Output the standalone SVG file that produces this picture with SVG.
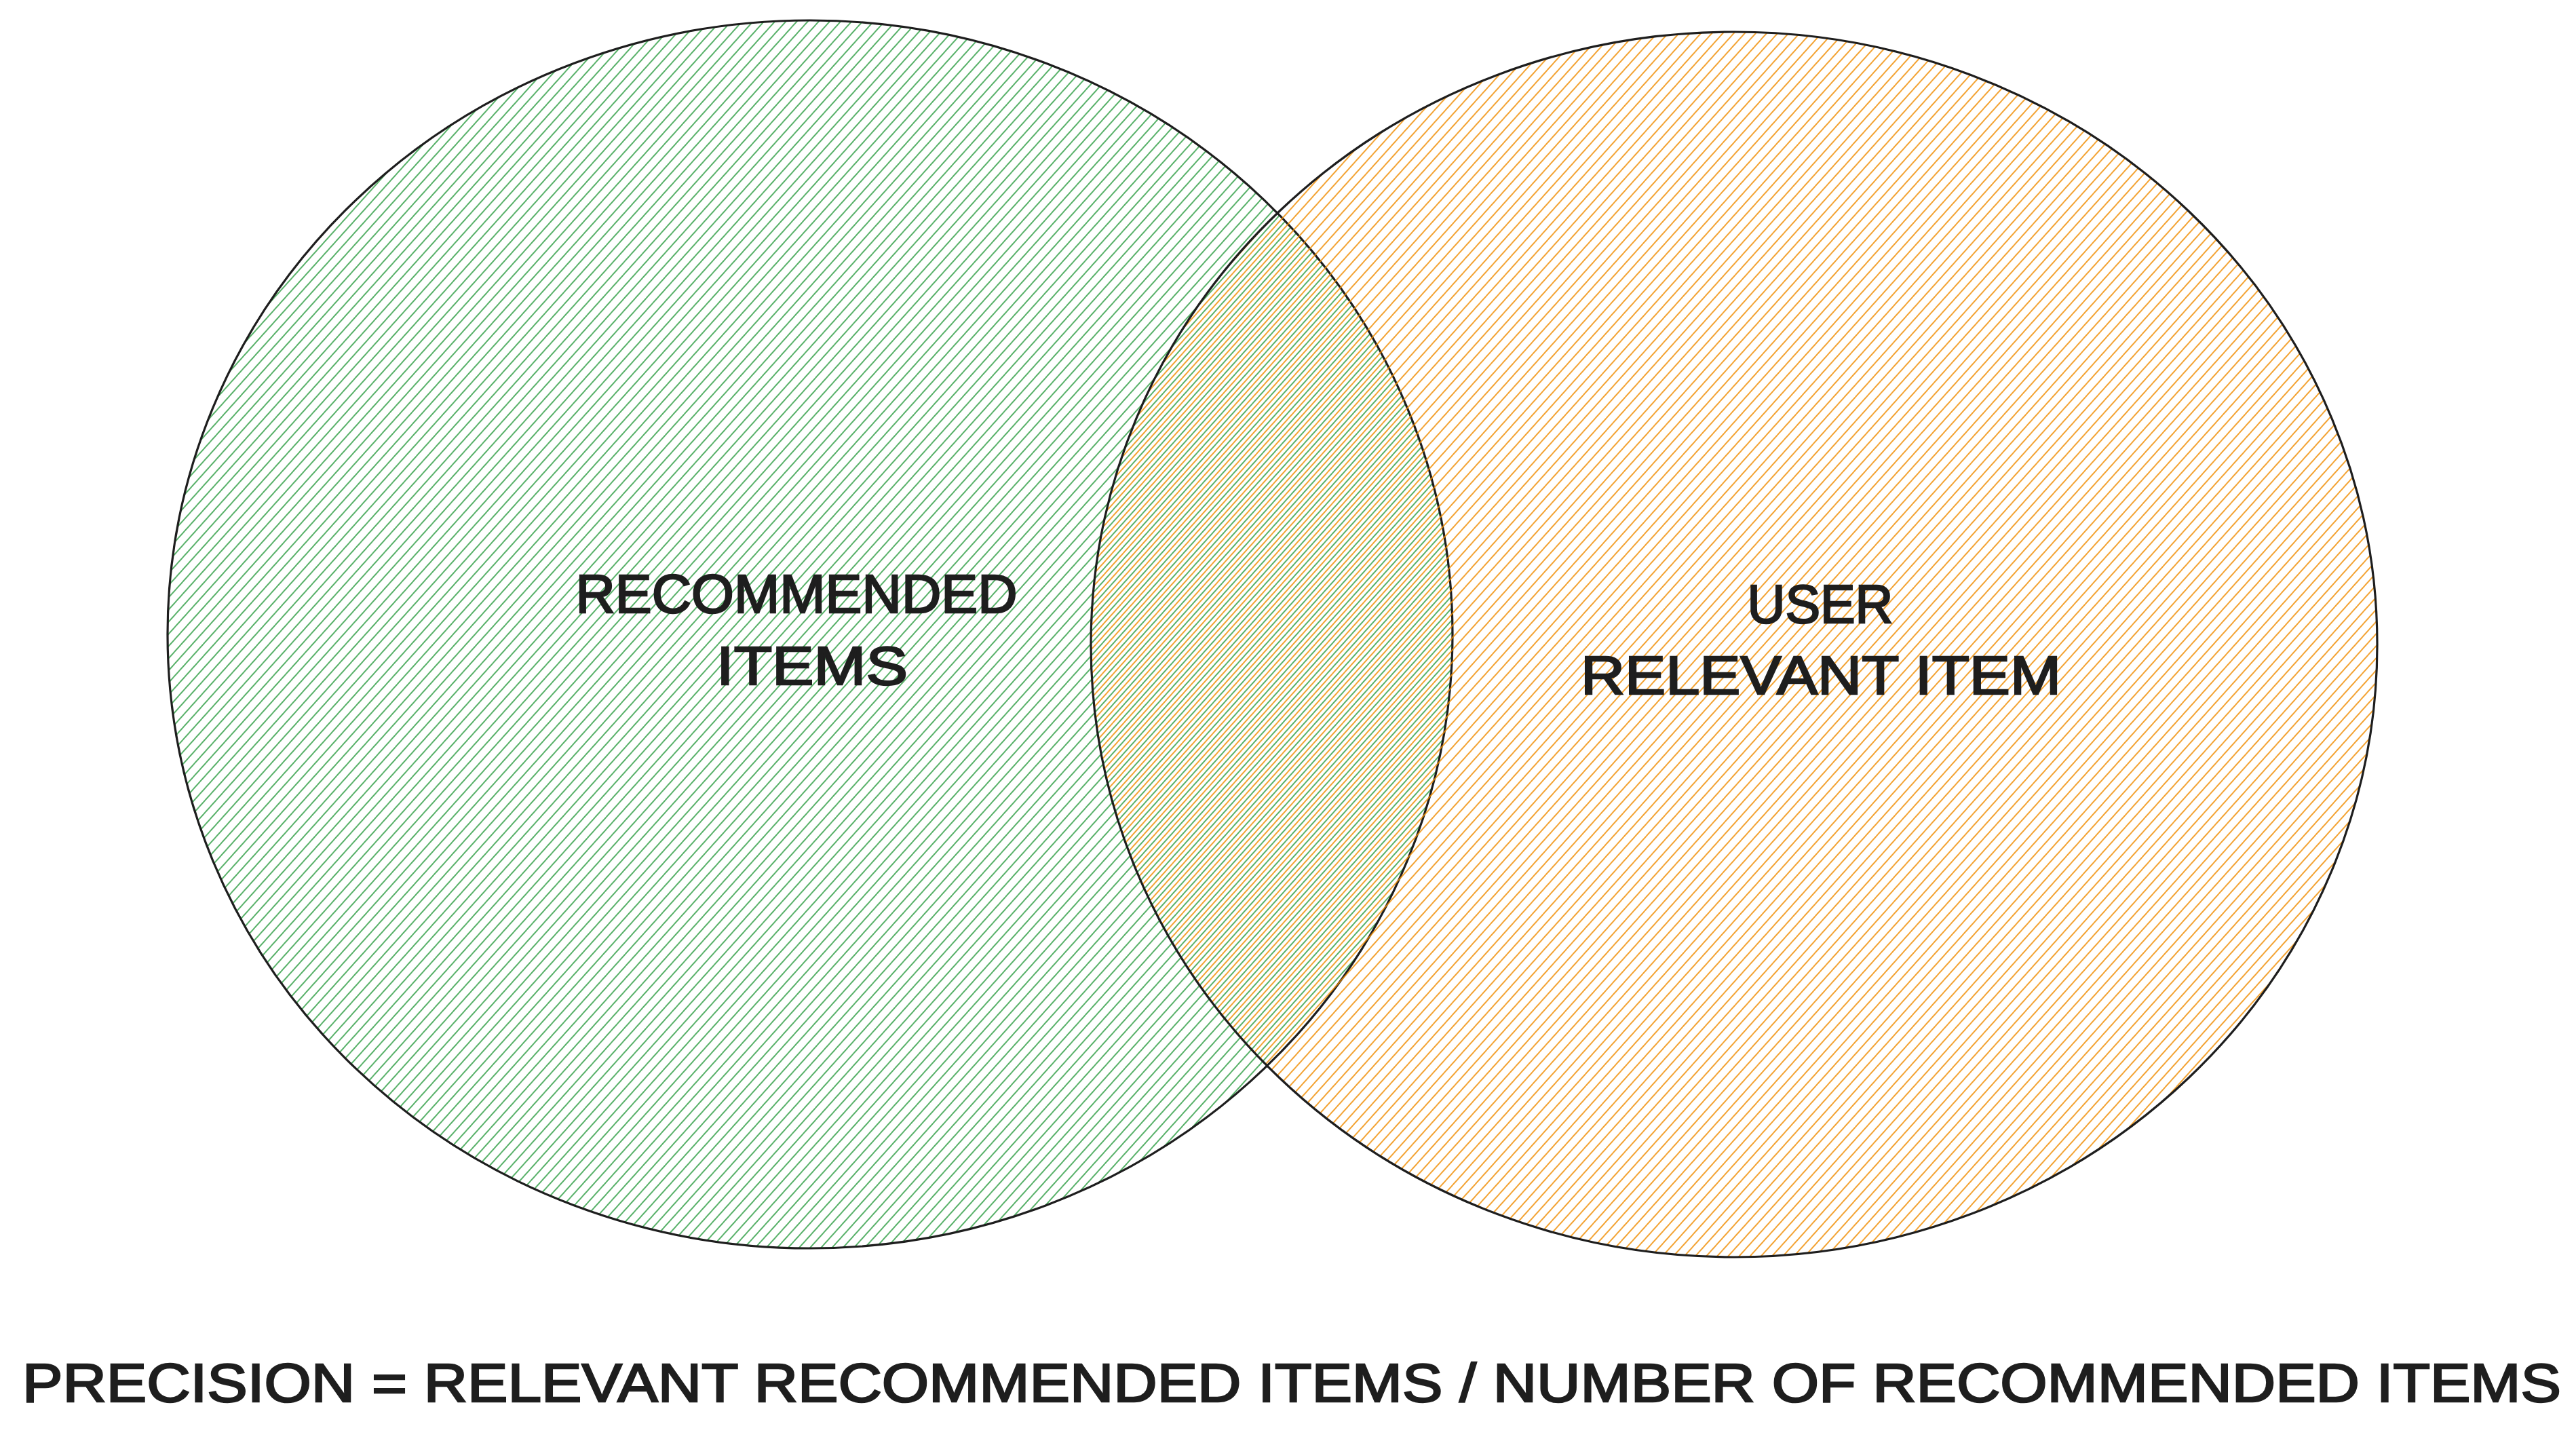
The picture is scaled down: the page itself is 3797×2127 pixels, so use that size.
<svg xmlns="http://www.w3.org/2000/svg" width="3797" height="2127" viewBox="0 0 3797 2127">
  <defs>
    <pattern id="hatch-green" patternUnits="userSpaceOnUse" width="40" height="12" patternTransform="rotate(-48)">
      <rect x="0" y="5.2" width="40" height="1.6" fill="#2f9e44"/>
    </pattern>
    <pattern id="hatch-orange" patternUnits="userSpaceOnUse" width="40" height="12" patternTransform="rotate(-48)">
      <rect x="0" y="-0.8" width="40" height="1.6" fill="#f08c00"/>
      <rect x="0" y="11.2" width="40" height="1.6" fill="#f08c00"/>
    </pattern>
  </defs>
  <style>
    .outline { stroke: #1e1e1e; stroke-width: 3.2; }
    .label { font-family: "Liberation Sans", Arial, sans-serif; font-size: 80px; fill: #1e1e1e; stroke: #1e1e1e; stroke-width: 2.5; text-anchor: middle; }
    .formula { font-family: "Liberation Sans", Arial, sans-serif; font-size: 80px; fill: #1e1e1e; stroke: #1e1e1e; stroke-width: 2.5; }
  </style>
  <rect x="0" y="0" width="3797" height="2127" fill="#ffffff"/>

  <g id="node-recommended-items">
    <ellipse class="outline" cx="1194" cy="935" rx="947" ry="905" fill="url(#hatch-green)"/>
    <text class="label" x="1174" y="903" textLength="651" lengthAdjust="spacingAndGlyphs">RECOMMENDED</text>
    <text class="label" x="1197" y="1009" textLength="282" lengthAdjust="spacingAndGlyphs">ITEMS</text>
  </g>

  <g id="node-user-relevant-item">
    <ellipse class="outline" cx="2556" cy="950" rx="948" ry="903" fill="url(#hatch-orange)"/>
    <text class="label" x="2683" y="918" textLength="215" lengthAdjust="spacingAndGlyphs">USER</text>
    <text class="label" x="2684" y="1023" textLength="708" lengthAdjust="spacingAndGlyphs">RELEVANT ITEM</text>
  </g>

  <g id="connectors"/>

  <g id="formula">
    <text class="formula" x="33" y="2066" textLength="3742" lengthAdjust="spacingAndGlyphs">PRECISION = RELEVANT RECOMMENDED ITEMS / NUMBER OF RECOMMENDED ITEMS</text>
  </g>
</svg>
